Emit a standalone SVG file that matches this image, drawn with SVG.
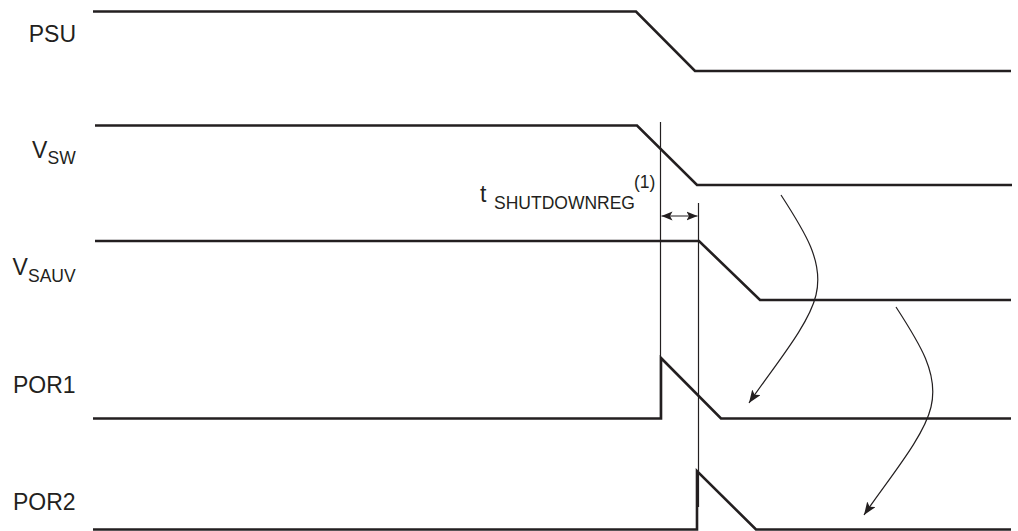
<svg xmlns="http://www.w3.org/2000/svg" width="1018" height="531" viewBox="0 0 1018 531">
<style>
.sig{fill:none;stroke:#231f20;stroke-width:2.6;stroke-linejoin:miter}
.thin{fill:none;stroke:#231f20;stroke-width:1.2}
.lbl{font-family:"Liberation Sans",Arial,sans-serif;font-size:23px;fill:#231f20}
.sub{font-family:"Liberation Sans",Arial,sans-serif;font-size:17.5px;fill:#231f20}
</style>
<defs>
<marker id="ah" markerWidth="14" markerHeight="10" refX="13" refY="5" orient="auto" markerUnits="userSpaceOnUse">
<path d="M0,0 L13,5 L0,10 L3,5 z" fill="#231f20"/>
</marker>
<marker id="ah2" markerWidth="12" markerHeight="10" refX="11" refY="5" orient="auto-start-reverse" markerUnits="userSpaceOnUse">
<path d="M0,0.5 L11,5 L0,9.5 L2.5,5 z" fill="#231f20"/>
</marker>
</defs>
<rect width="1018" height="531" fill="#ffffff"/>
<g id="psu">
<text class="lbl" x="76" y="42" text-anchor="end">PSU</text>
<polyline class="sig" points="93,11.5 636,11.5 695,71 1011,71"/>
</g>
<g id="vsw">
<text class="lbl" x="32" y="158">V</text>
<text class="sub" x="47.5" y="163.5">SW</text>
<polyline class="sig" points="95,125.5 637,125.5 697,185 1012,185"/>
</g>
<g id="vsauv">
<text class="lbl" x="12.5" y="275">V</text>
<text class="sub" x="28" y="281.5">SAUV</text>
<polyline class="sig" points="95,241 699,241 760,300 1011,300"/>
</g>
<g id="por1">
<text class="lbl" x="13" y="393">POR1</text>
<polyline class="sig" points="93,418.5 661,418.5 661,358 721,418.5 1011,418.5"/>
</g>
<g id="por2">
<text class="lbl" x="13" y="510">POR2</text>
<polyline class="sig" points="93,529.5 697,529.5 697,471 756,529.5 1011,529.5"/>
</g>
<g id="tshutdown">
<text class="lbl" x="480" y="202">t</text>
<text class="sub" x="494" y="208.5">SHUTDOWNREG</text>
<text class="sub" x="634" y="188">(1)</text>
</g>
<g id="connectors">
<line class="thin" x1="660.5" y1="122" x2="660.5" y2="418"/>
<line class="thin" x1="698.5" y1="203" x2="698.5" y2="507"/>
<line class="thin" x1="661.5" y1="216" x2="697.5" y2="216" marker-start="url(#ah2)" marker-end="url(#ah2)"/>
<path class="thin" d="M781,195 C805,232 824,262 816,295 C809,325 775,365 749,403" marker-end="url(#ah)"/>
<path class="thin" d="M896,307 C920,344 939,374 931,407 C924,437 890,477 864,515" marker-end="url(#ah)"/>
</g>
</svg>
